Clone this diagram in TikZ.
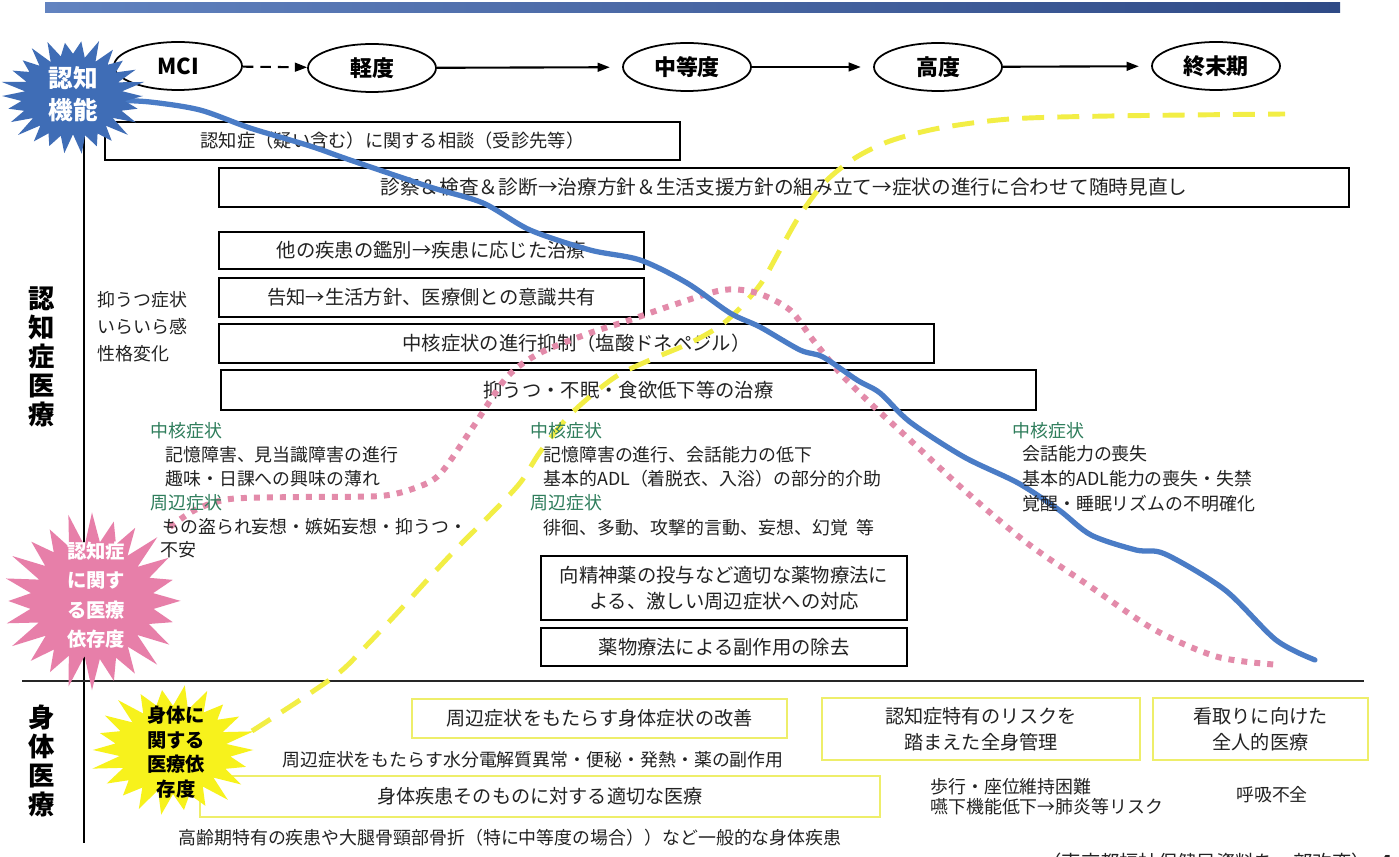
\documentclass[tikz,border=0pt]{standalone}
\usepackage{fontspec}
\setmainfont{Noto Sans CJK JP}
\usetikzlibrary{shapes.geometric,arrows.meta}
\definecolor{barL}{HTML}{6283C0}
\definecolor{barR}{HTML}{2F4A86}
\definecolor{bluel}{HTML}{4A7CC6}
\definecolor{pinkd}{HTML}{E38BAA}
\definecolor{yelld}{HTML}{F2EE45}
\definecolor{grn}{HTML}{2E7D5B}
\definecolor{ybox}{HTML}{EEEE6A}
\definecolor{starblue}{HTML}{3F6DB6}
\definecolor{starpink}{HTML}{E77FA9}
\definecolor{staryel}{HTML}{F7F21C}
\definecolor{txt}{HTML}{222222}
% cx cy Rx Ry ratio n samples colour
\newcommand\mkburst[8]{%
  \fill[#8] plot[samples=#7, domain=0:2*#6, variable=\k]
    ({#1+#3*(mod(round(\k),2)==0?1:#5)*(1+0.05*sin(\k*131))*cos(\k*180/#6)},
     {#2+#4*(mod(round(\k),2)==0?1:#5)*(1+0.05*sin(\k*131))*sin(\k*180/#6)}) -- cycle;}
\begin{document}
\begin{tikzpicture}[x=0.02cm,y=-0.02cm,
  txtf/.style={font=\fontsize{10.2}{13.6}\selectfont, text=txt, inner sep=0pt},
  bx/.style={draw=black, line width=0.8pt, rectangle, inner sep=0pt, txtf, align=center, font=\fontsize{11}{14.5}\selectfont},
  ybx/.style={draw=ybox, line width=1.3pt, rectangle, inner sep=0pt, txtf, align=center, font=\fontsize{10.9}{14.5}\selectfont},
  stage/.style={draw, ellipse, line width=1pt, minimum width=2.56cm, minimum height=0.96cm, font=\fontsize{12.5}{14}\selectfont\bfseries, inner sep=0pt},
  prog/.style={line width=1.2pt, -{Triangle[length=7pt,width=5pt]}},
  lt/.style={txtf, anchor=west},
  hd/.style={txtf, anchor=west, text=grn},
  vlab/.style={font=\fontsize{15}{16.5}\selectfont\bfseries, align=center, inner sep=0pt},
  startxt/.style={font=\bfseries, align=center, inner sep=0pt}
]
\useasboundingbox (0,0) rectangle (1399,857);
\fill[white] (0,0) rectangle (1399,857);
% top bar
\shade[left color=barL, right color=barR] (45,3) rectangle (1340,13);
% axes
\draw[line width=0.9pt, black] (84,128) -- (84,843);
\draw[line width=1.5pt, black!85] (22,681) -- (1364,681);

% black boxes
\node[bx, minimum width=11.5cm, minimum height=0.76cm, font=\fontsize{10.4}{13}\selectfont] (b1) at (392.5,141) {認知症（疑い含む）に関する相談（受診先等）};
\node[bx, minimum width=22.6cm, minimum height=0.78cm, font=\fontsize{11.2}{13}\selectfont] (b2) at (784,187.5) {診察＆検査＆診断→治療方針＆生活支援方針の組み立て→症状の進行に合わせて随時見直し};
\node[bx, minimum width=8.5cm, minimum height=0.74cm] (b3) at (431.5,250.5) {他の疾患の鑑別→疾患に応じた治療};
\node[bx, minimum width=8.5cm, minimum height=0.78cm] (b4) at (431.5,297.5) {告知→生活方針、医療側との意識共有};
\node[bx, minimum width=14.3cm, minimum height=0.78cm] (b5) at (576.5,343.5) {中核症状の進行抑制（塩酸ドネペジル）};
\node[bx, minimum width=16.3cm, minimum height=0.8cm] (b6) at (628.5,390) {抑うつ・不眠・食欲低下等の治療};
\node[bx, minimum width=7.32cm, minimum height=1.28cm] (b7) at (724,588) {向精神薬の投与など適切な薬物療法に\\よる、激しい周辺症状への対応};
\node[bx, minimum width=7.32cm, minimum height=0.76cm] (b8) at (724,647) {薬物療法による副作用の除去};

% yellow boxes
\node[ybx, minimum width=7.5cm, minimum height=0.78cm] (y1) at (599.5,718.5) {周辺症状をもたらす身体症状の改善};
\node[ybx, minimum width=6.36cm, minimum height=1.24cm] (y2) at (981,729) {認知症特有のリスクを\\踏まえた全身管理};
\node[ybx, minimum width=4.3cm, minimum height=1.24cm] (y3) at (1260.5,729) {看取りに向けた\\全人的医療};
\node[ybx, minimum width=13.6cm, minimum height=0.82cm] (y4) at (540,796.5) {身体疾患そのものに対する適切な医療};

% curves
\draw[yelld, line width=2.8pt, dash pattern=on 12.5pt off 7.5pt] plot[smooth, tension=0.5] coordinates {
 (252,731) (300,700) (340,672) (367,645) (400,610) (430,577) (460,545) (490,515) (520,483) (540,452) (567,418) (593,394) (620,374) (657,357) (690,343) (720,326) (742,306) (762,282) (780,250) (800,215) (825,182) (855,158) (890,141) (940,128) (1010,119) (1110,116) (1285,114)};
\draw[pinkd, line width=3.4pt, dash pattern=on 3.4pt off 4pt] plot[smooth] coordinates {
 (170,527) (195,510) (230,499) (300,497) (380,496) (415,488) (440,474) (473,427) (507,377) (540,353) (590,333) (627,321) (673,305) (723,290) (757,293) (790,310) (813,340) (840,373) (870,403) (910,440) (964,490) (1027,543) (1091,587) (1155,630) (1218,657) (1280,665)};
\draw[bluel, line width=3pt, line join=round, line cap=round] plot[smooth, tension=0.5] coordinates {
 (110,100) (150,102) (200,110) (250,128) (310,146) (350,160) (430,187) (483,203) (530,230) (590,250) (640,260) (687,283) (730,313) (760,327) (800,350) (823,357) (857,380) (880,393) (910,422) (964,457) (1018,483) (1059,510) (1091,535) (1136,550) (1165,554) (1225,590) (1276,640) (1315,660)};

% stages
\node[stage] (mci) at (178,66) {MCI};
\node[stage] (kei) at (372,68) {軽度};
\node[stage] (chu) at (687,67) {中等度};
\node[stage] (ko) at (938,67) {高度};
\node[stage] (shu) at (1216,66) {終末期};
\draw[line width=1.2pt, dash pattern=on 6pt off 4pt, -{Triangle[length=7pt,width=5pt]}] (mci) -- (kei);
\draw[prog, shorten >=7pt] (kei) -- (chu);
\draw[prog, shorten >=7pt] (chu) -- (ko);
\draw[prog, shorten >=7pt] (ko) -- (shu);

% stars
\mkburst{73}{96}{70}{56}{0.72}{26}{53}{starblue}
\node[startxt, text=white, font=\fontsize{14}{18.5}\selectfont\bfseries] (kino) at (73,94) {認知\\機能};
\mkburst{92}{601}{88}{86}{0.68}{24}{49}{starpink}
\node[startxt, text=white, font=\fontsize{11}{16.8}\selectfont\bfseries] (izon1) at (96,595) {認知症\\に関す\\る医療\\依存度};
\mkburst{173}{750}{80}{63}{0.7}{22}{45}{staryel}
\node[startxt, text=black, font=\fontsize{11}{14}\selectfont\bfseries] (izon2) at (176,752) {身体に\\関する\\医療依\\存度};

% side labels
\node[vlab] (lab1) at (42,357) {認\\知\\症\\医\\療};
\node[vlab] (lab2) at (42,761) {身\\体\\医\\療};
\node[txtf, anchor=north west, align=left, font=\fontsize{10.2}{15.3}\selectfont] (sym0) at (97,291) {抑うつ症状\\いらいら感\\性格変化};

% group 1
\node[hd] (g1h) at (150,431) {中核症状};
\node[lt] (g1a) at (165,455) {記憶障害、見当識障害の進行};
\node[lt] (g1b) at (165,479) {趣味・日課への興味の薄れ};
\node[hd] (g1p) at (150,503) {周辺症状};
\node[lt] (g1c) at (162,527) {もの盗られ妄想・嫉妬妄想・抑うつ・};
\node[lt] (g1d) at (160,550) {不安};
% group 2
\node[hd] (g2h) at (530,431) {中核症状};
\node[lt] (g2a) at (543,455) {記憶障害の進行、会話能力の低下};
\node[lt] (g2b) at (543,479) {基本的ADL（着脱衣、入浴）の部分的介助};
\node[hd] (g2p) at (530,503) {周辺症状};
\node[lt] (g2c) at (543,528) {徘徊、多動、攻撃的言動、妄想、幻覚\enspace 等};
% group 3
\node[hd] (g3h) at (1012,431) {中核症状};
\node[lt] (g3a) at (1022,454) {会話能力の喪失};
\node[lt] (g3b) at (1022,479) {基本的ADL能力の喪失・失禁};
\node[lt] (g3c) at (1022,504) {覚醒・睡眠リズムの不明確化};

% body section texts
\node[txtf] (t1) at (533,760) {周辺症状をもたらす水分電解質異常・便秘・発熱・薬の副作用};
\node[txtf] (t2) at (510,838) {高齢期特有の疾患や大腿骨頸部骨折（特に中等度の場合））など一般的な身体疾患};
\node[txtf, anchor=west, align=left, font=\fontsize{10.2}{11.5}\selectfont] (t3) at (930,797) {歩行・座位維持困難\\嚥下機能低下→肺炎等リスク};
\node[txtf] (t4) at (1272,795) {呼吸不全};
\node[txtf, anchor=west, font=\fontsize{11}{12}\selectfont] (src) at (1042,862) {（東京都福祉保健局資料を一部改変）\enspace\textbf{4}};
\end{tikzpicture}
\end{document}
